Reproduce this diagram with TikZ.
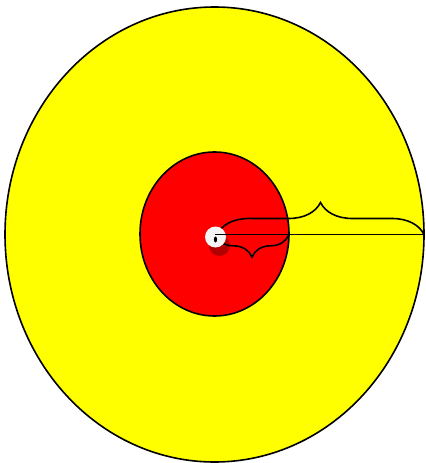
\documentclass[tikz,border=0pt]{standalone}
\usetikzlibrary{decorations.pathreplacing,shapes.geometric}
\definecolor{yel}{RGB}{255,255,0}
\definecolor{rd}{RGB}{255,0,0}
\definecolor{wh}{RGB}{245,245,245}
\begin{document}
\begin{tikzpicture}[x=0.75pt,y=-0.75pt,
  outl/.style={draw=black,line width=1.2pt},
  bracestyle/.style={draw=black,line width=1.2pt,decorate},
  ]
\useasboundingbox (0,0) rectangle (425,463);
\node[outl,fill=yel,ellipse,minimum width=419*0.75pt,minimum height=455*0.75pt,inner sep=0pt] (big) at (214.5,234.5) {};
\node[outl,fill=rd,ellipse,minimum width=149*0.75pt,minimum height=164*0.75pt,inner sep=0pt] (small) at (214.5,234) {};
\coordinate (c) at (215,234.5);
\coordinate (bigend) at (424,234.5);
\coordinate (smallend) at (289,234.5);
\coordinate (bigstart) at (217,234.5);
\draw[bracestyle,decoration={brace,amplitude=24pt}] (bigstart) -- (bigend);
\draw[bracestyle,decoration={brace,mirror,amplitude=17pt}] (c) -- (smallend);
\fill[black,opacity=0.3] (219.5,245.5) circle[radius=10.5];
\node[circle,fill=wh,minimum size=21*0.75pt,inner sep=0pt] (dotbg) at (215.5,237) {};
\fill[black] (215.5,239.5) ellipse[x radius=1.6,y radius=3];
\draw[outl] (c) -- (bigend);
\end{tikzpicture}
\end{document}
